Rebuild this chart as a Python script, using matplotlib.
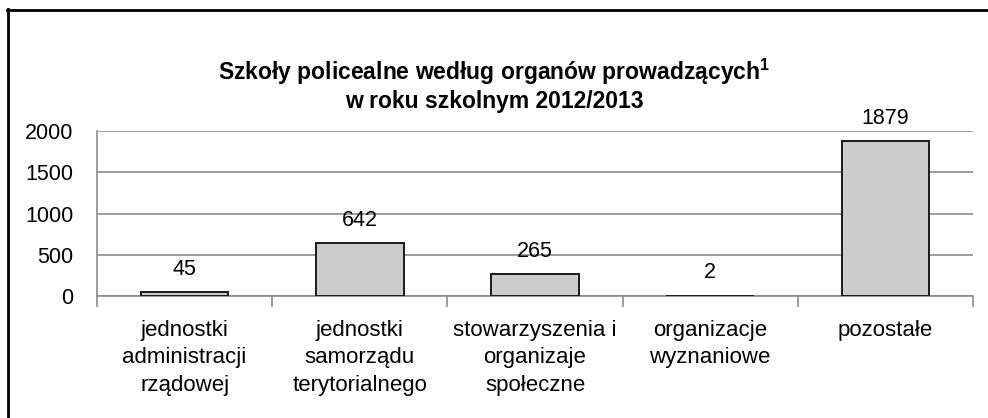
import matplotlib
matplotlib.use("Agg")
import matplotlib.pyplot as plt
from matplotlib.lines import Line2D

categories = ["jednostki\nadministracji\nrządowej",
              "jednostki\nsamorządu\nterytorialnego",
              "stowarzyszenia i\norganizaje\nspołeczne",
              "organizacje\nwyznaniowe",
              "pozostałe"]
values = [45, 642, 265, 2, 1879]
yticks = [0, 500, 1000, 1500, 2000]
title = "Szkoły policealne według organów prowadzących$^{\\mathbf{1}}$\nw roku szkolnym 2012/2013"

fam = "Liberation Sans"
plt.rcParams['font.family'] = [fam, 'DejaVu Sans']
plt.rcParams['mathtext.fontset'] = 'custom'
plt.rcParams['mathtext.rm'] = fam
plt.rcParams['mathtext.bf'] = fam + ':bold'

W, H = 988, 418
fig = plt.figure(figsize=(W/100, H/100), dpi=100)
ax = fig.add_axes([97/W, 1-296/H, (973-97)/W, (296-131)/H])

x = list(range(len(values)))
ax.bar(x, values, width=0.5, color="#cccccc", edgecolor="#1a1a1a", linewidth=1.4, zorder=3)
for xi, v in zip(x, values):
    ax.annotate(str(v), (xi, v), xytext=(0, 12.5), textcoords="offset points",
                ha="center", va="baseline", fontsize=15.5)

ax.set_xlim(-0.5, len(values) - 0.5)
ax.set_ylim(0, 2000)
ax.set_yticks(yticks)
ax.set_yticklabels([str(t) for t in yticks], fontsize=15.5)
ax.yaxis.grid(True, color="#8c8c8c", linewidth=1.2, zorder=0)
ax.set_axisbelow(True)
ax.tick_params(axis="y", length=0, pad=17)
ax.set_xticks([i + 0.5 for i in range(-1, len(values))], minor=True)
ax.set_xticks(x)
ax.set_xticklabels(categories, fontsize=16, linespacing=1.42, va="top")
ax.tick_params(axis="x", which="major", length=0, pad=17)
ax.tick_params(axis="x", which="minor", length=8, color="#8c8c8c", width=1.2)
for s in ["top", "right"]:
    ax.spines[s].set_visible(False)
for s in ["left", "bottom"]:
    ax.spines[s].set_color("#8c8c8c")
    ax.spines[s].set_linewidth(1.2)

fig.text(0.5, 1-85/H, title, ha="center", va="center", fontsize=16.5, fontweight="bold",
         linespacing=1.15)

fig.add_artist(Line2D([7.5/W, 7.5/W], [0, 1-9/H], color="black", linewidth=2, transform=fig.transFigure))
fig.add_artist(Line2D([7/W, 1], [1-10/H, 1-10/H], color="black", linewidth=2, transform=fig.transFigure))

fig.savefig("out.png", dpi=100)
